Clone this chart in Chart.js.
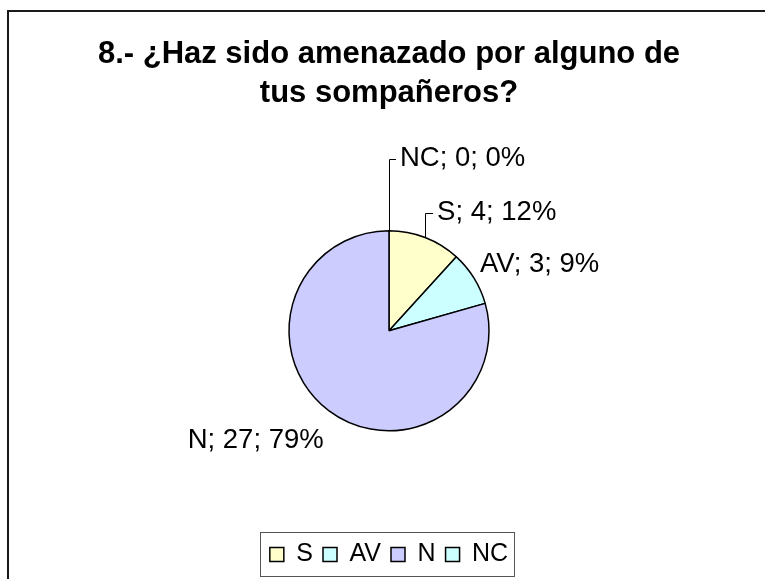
<!DOCTYPE html>
<html>
<head>
<meta charset="utf-8">
<script src="https://cdn.jsdelivr.net/npm/chart.js@4/dist/chart.umd.min.js"></script>
<style>
  html, body { margin: 0; padding: 0; background: #fff; overflow: hidden; }
  body { width: 765px; height: 579px; position: relative; }
  #frame { position: absolute; left: 7px; top: 10px; width: 800px; height: 620px;
           border: 2px solid #1a1a1a; box-sizing: border-box; }
  #wrap { position: absolute; left: 8px; top: 11px; width: 760px; height: 568px; }
</style>
</head>
<body>
<div id="frame"></div>
<div id="wrap"><canvas id="chart"></canvas></div>
<script>
// values
var categories = ['S', 'AV', 'N', 'NC'];
var values = [4, 3, 27, 0];
var colors = ['#FFFFCC', '#CCFFFF', '#CCCCFF', '#CCFFFF'];

var font_family = 'Arial, "Liberation Sans", sans-serif';

// label placement relative to each slice's outer mid point: dx, dy, align, leader line
var label_place = [
    [12, -25, 'left', true],
    [6, -14, 'left', false],
    [-5, 30, 'right', false],
    [11, -72, 'left', true]
];

var sliceLabels = {
    id: 'sliceLabels',
    afterDatasetsDraw(chart) {
        var ctx = chart.ctx;
        var meta = chart.getDatasetMeta(0);
        var total = values.reduce(function (a, b) { return a + b; }, 0);
        ctx.save();
        ctx.font = '27.5px ' + font_family;
        ctx.fillStyle = '#000';
        ctx.strokeStyle = '#000';
        ctx.lineWidth = 1;
        meta.data.forEach(function (arc, i) {
            var p = arc.getProps(['x', 'y', 'startAngle', 'endAngle', 'outerRadius'], true);
            var mid = (p.startAngle + p.endAngle) / 2;
            var ax = p.x + Math.cos(mid) * p.outerRadius;
            var ay = p.y + Math.sin(mid) * p.outerRadius;
            var pl = label_place[i];
            var tx = ax + pl[0], ty = ay + pl[1];
            var pct = Math.round(values[i] / total * 100);
            var text = categories[i] + '; ' + values[i] + '; ' + pct + '%';
            if (pl[3]) {
                ctx.beginPath();
                ctx.moveTo(Math.round(ax) + 0.5, ay);
                ctx.lineTo(Math.round(ax) + 0.5, Math.round(ty) + 0.5);
                ctx.lineTo(tx - 4, Math.round(ty) + 0.5);
                ctx.stroke();
            }
            ctx.textAlign = pl[2];
            ctx.textBaseline = 'middle';
            ctx.fillText(text, tx, ty);
        });
        ctx.restore();
    }
};

var legendBox = {
    id: 'legendBox',
    afterDraw(chart) {
        var lg = chart.legend;
        if (!lg || !lg.legendHitBoxes.length) return;
        var boxes = lg.legendHitBoxes;
        var left = Math.min.apply(null, boxes.map(function (b) { return b.left; })) - 10;
        var right = Math.max.apply(null, boxes.map(function (b) { return b.left + b.width; })) + 6;
        var ctx = chart.ctx;
        ctx.save();
        ctx.strokeStyle = '#555';
        ctx.lineWidth = 1;
        ctx.strokeRect(Math.round(left) + 0.5, Math.round(lg.top) + 0.5,
                       Math.round(right - left), Math.round(lg.height) - 1);
        ctx.restore();
    }
};

var ctx = document.getElementById('chart');

var cfg = {
    type: 'pie',
    data: {
        labels: categories,
        datasets: [{
            data: values,
            backgroundColor: colors,
            borderColor: '#000',
            borderWidth: 1.5,
            radius: 100
        }]
    },
    options: {
        responsive: true,
        maintainAspectRatio: false,
        animation: false,
        events: [],
        layout: { padding: { left: 2, right: 0, top: 0, bottom: 2 } },
        plugins: {
            title: {
                display: true,
                text: ['8.- ¿Haz sido amenazado por alguno de', 'tus sompañeros?'],
                color: '#000',
                font: { family: font_family, size: 31, weight: 'bold', lineHeight: 1.25 },
                padding: { top: 24, bottom: 17 }
            },
            legend: {
                display: true,
                position: 'bottom',
                labels: {
                    color: '#000',
                    boxWidth: 14,
                    boxHeight: 14,
                    padding: 10,
                    font: { family: font_family, size: 25 }
                }
            },
            tooltip: { enabled: false }
        }
    },
    plugins: [sliceLabels, legendBox]
};

const chart = new Chart(ctx, cfg);
</script>
</body>
</html>
